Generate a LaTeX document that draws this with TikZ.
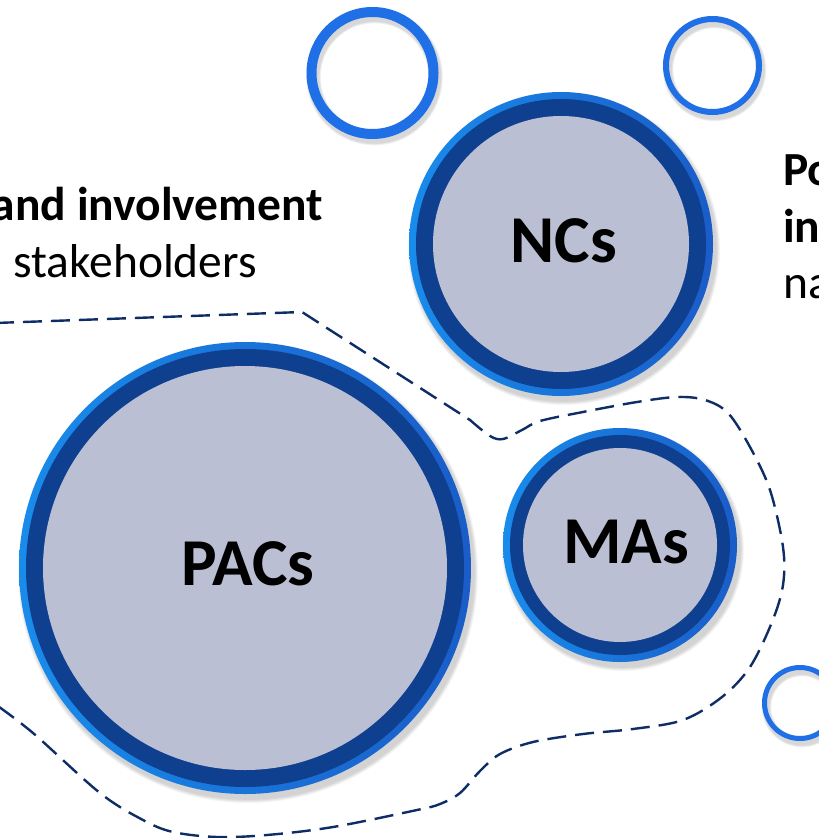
\documentclass[tikz,border=0pt]{standalone}
\usepackage{fontspec}
\setmainfont{Carlito}
\definecolor{ringblue}{HTML}{1F6FE6}
\definecolor{ringbluedk}{HTML}{1A5CC8}
\definecolor{darkring}{HTML}{0F3F8F}
\definecolor{innerfill}{HTML}{BBBFD3}
\definecolor{dashnavy}{HTML}{0E2D66}
\tikzset{
  bubbletext/.style={font=\fontsize{67}{67}\selectfont\bfseries, text=black, inner sep=0pt, anchor=base},
  sidetext/.style={font=\fontsize{47.5}{57}\selectfont, text=black, inner sep=0pt},
  sidebold/.style={sidetext, font=\fontsize{47.5}{57}\selectfont\bfseries},
  border/.style={dashnavy, line width=2.4pt, dash pattern=on 19pt off 9pt},
  smallring/.style={draw=ringblue},
}
\newcommand{\mybubble}[4]{% x y R Ri
  \foreach \k in {1,...,5}{\fill[black, opacity=0.035] (#1+3,#2+5) circle ({#3+\k*0.8});}
  \shade[left color=ringblue!80!cyan, right color=ringbluedk] (#1,#2) circle (#3);
  \fill[darkring] ({#1},{#2}) circle ({#3-7});
  \fill[innerfill] (#1,#2) circle (#4);
}
\newcommand{\myring}[4]{% x y r lw
  \foreach \k in {1,...,4}{\draw[black, opacity=0.04, line width={#4+\k*1.2}] (#1+2,#2+4) circle (#3);}
  \draw[smallring, line width=#4] (#1,#2) circle (#3);
}
\begin{document}
\begin{tikzpicture}[x=1pt,y=-1pt]
\useasboundingbox (0,0) rectangle (819,838);
\clip (0,0) rectangle (819,838);
\fill[white] (0,0) rectangle (819,838);
% dashed outline
\draw[border] (-5,323) -- (302,312) -- (470,420)
  -- plot[smooth, tension=0.55] coordinates {(470,420) (490,436) (503,439) (522,430) (540,421) (583,412) (637,402) (677,397) (705,400) (728,413) (750,447) (770,490) (783,547) (783,585) (772,622) (750,667) (722,697) (683,720) (633,729) (583,734) (533,742) (500,754) (480,771) (460,793) (440,804) (417,810) (333,827) (267,835) (217,837) (173,832) (143,820) (100,793) (33,733) (-5,704)};
% small rings
\myring{372.5}{73}{61}{10}
\myring{712.5}{65.5}{46.5}{6}
\myring{800}{703}{35.5}{5}
% bubbles
\mybubble{561}{244}{152}{128}
\mybubble{620}{545}{117}{97}
\mybubble{245}{568}{226}{202}
\node[bubbletext] (nc) at (564,262) {NCs};
\node[bubbletext] (ma) at (626,563) {MAs};
\node[bubbletext] (pac) at (248,585) {PACs};
% side texts
\node[sidebold, anchor=base east] (l1) at (323,220) {and involvement};
\node[sidetext, anchor=base west] (l2) at (13,277) {stakeholders};
\node[sidebold, anchor=base west] (r1) at (783,185) {Po};
\node[sidebold, anchor=base west] (r2) at (783,242) {in};
\node[sidetext, anchor=base west] (r3) at (783,298) {na};
\end{tikzpicture}
\end{document}
